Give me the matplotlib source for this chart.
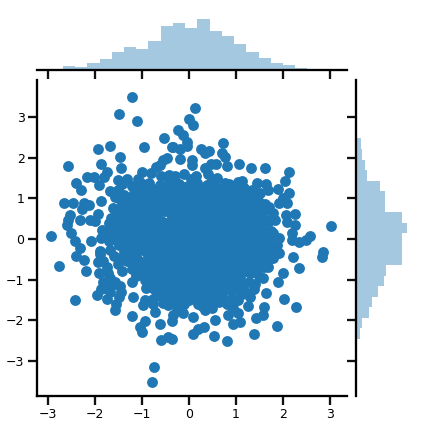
import numpy as np
from matplotlib import pyplot as plt

xs_edge = [-1.21,-1.48,-1.10,-1.67,-1.93,-0.95,-2.57,-1.46,-1.86,-1.44,-2.16,-2.01,-1.74,-1.80,-1.91,-2.40,-2.29,-1.50,-0.99,-0.81,-1.09,
           -2.65,-2.46,-2.23,-2.12,-2.27,-1.86,-2.53,-2.57,-2.31,-2.10,-2.00,-1.93,-2.60,-2.50,-2.93,-2.42,-2.31,-2.08,-1.84,-1.86,
           -0.53,-0.35,-0.24,-0.42,-0.62,-0.46,-0.55,-0.69,-0.84,-1.68,-1.50,
           0.13,0.01,0.09,-0.12,-0.05,-0.05,-0.33,-0.19,0.73,0.26,0.43,0.34,0.71,0.77,-0.18,0.06,0.06,0.82,1.07,1.31,1.61,0.58,0.46,0.34,
           2.13,2.05,1.89,2.13,2.01,2.09,1.92,2.26,2.07,2.09,2.26,3.03,2.20,2.20,2.58,2.48,2.35,2.84,
           1.44,1.64,1.69,1.51,1.30,1.12,1.04,0.86,1.05,0.04,0.50,1.47,1.64,1.79,1.82,1.58,1.55,1.37,1.51,1.79,1.92,1.72,1.87,1.58,
           -2.76,-2.40,-2.23,-2.18,-2.42,-1.91,-1.93,-1.95,-1.86,-1.74,-1.57,-1.55,-1.21,-0.93,-1.04,-1.00,-0.61,-0.59,-0.44,-0.35,-0.74,-0.78,
           -0.72,-0.35,-1.18,-0.93,-0.76,-1.48,-1.68,-1.89,-1.68,-1.75,-1.68,-1.82,-1.57,-1.22,-1.47,-0.55,-0.26,-0.33,
           0.09,0.54,0.82,1.39,1.88,2.28,2.03,1.60,1.58,1.43,1.26,0.94,1.09,1.05,0.31,0.20,0.56,0.09,-0.12,0.84,1.64,1.39,1.90,1.99,1.58,
           2.35,2.22,2.82,1.92,1.79,1.69,1.30,0.94,0.66,0.34,-0.26,-0.05,0.38,
           -1.90,-1.82,-1.72,-1.80,-1.65,-1.45,-1.70,-1.75,-1.70,
           1.80,1.70,1.60,1.50,1.40,1.20,1.05,0.80,0.50,0.20,-0.10,-0.40,
           1.50,1.35,1.70,0.40,0.60,-0.30,-0.10,0.15,-0.60]
ys_edge = [3.51,3.07,2.92,2.30,2.21,2.26,1.81,2.01,1.84,1.74,1.54,1.54,1.64,1.54,1.32,1.38,1.22,1.45,1.64,1.62,1.47,
           0.90,0.90,0.90,0.85,0.73,0.93,0.58,0.47,0.48,0.48,0.44,0.61,0.34,0.14,0.07,-0.05,-0.21,-0.06,0.22,0.02,
           2.50,2.28,2.68,1.59,1.82,1.99,1.95,1.78,1.37,1.19,1.21,
           3.22,2.95,2.80,2.56,2.40,2.29,2.27,2.23,2.36,2.21,2.17,2.11,2.13,2.01,1.97,1.95,1.82,1.79,1.86,1.74,1.74,1.86,1.84,1.74,
           1.64,1.42,1.24,1.13,1.00,0.88,0.88,0.61,0.58,0.41,0.34,0.31,0.14,-0.02,0.07,-0.02,-0.07,-0.31,
           1.37,1.36,1.22,1.13,1.08,1.43,1.40,1.35,1.21,1.49,1.49,0.80,0.71,0.65,0.47,0.55,0.34,0.06,0.06,0.14,0.02,0.06,-0.15,-0.19,
           -0.67,-0.42,-0.52,-0.80,-1.51,-0.85,-0.57,-1.38,-1.24,-1.49,-1.76,-1.61,-1.91,-2.03,-2.18,-2.30,-2.10,-2.50,-2.42,-2.47,-3.16,-3.53,
           -1.81,-2.03,-1.44,-1.51,-1.49,-1.44,-1.30,-0.37,-0.27,-0.68,-0.97,-1.05,-1.05,-1.05,-1.17,-1.58,-1.75,-1.87,
           -2.35,-2.40,-2.52,-2.35,-2.15,-1.68,-1.49,-1.68,-1.88,-1.95,-1.66,-2.10,-2.05,-1.83,-2.18,-2.23,-2.00,-1.93,-1.83,-1.87,-1.34,-1.24,-1.07,-0.85,-0.97,
           -0.72,-0.45,-0.45,-0.35,-0.48,-0.68,-1.42,-1.58,-1.34,-1.75,-1.42,-1.38,-1.46,
           -0.30,-0.55,-0.85,-1.20,-1.15,-1.30,0.40,0.15,-0.05,
           -0.30,-0.50,-0.70,-0.90,-1.10,-1.30,-1.50,-1.60,-1.70,-1.60,-1.60,-1.55,
           0.90,1.20,0.80,1.60,1.50,1.55,1.60,1.55,1.55]
xs_mid = [-1.42,-1.21,-1.02,-0.83,-0.61,-0.42,-0.22,-0.03,0.18,0.39,0.58,0.77,0.96,1.17,1.36,
          -1.58,-1.37,-1.16,-0.97,-0.74,-0.53,-0.33,-0.11,0.08,0.29,0.51,0.69,0.88,1.11,1.29,1.48,
          -1.61,-1.43,-1.22,-1.01,-0.81,-0.63,-0.41,-0.19,0.01,0.23,0.42,0.63,0.84,1.03,1.22,1.41,1.62,
          -1.66,-1.47,-1.28,-1.07,-0.89,-0.68,-0.47,-0.26,-0.07,0.14,0.36,0.56,0.74,0.93,1.16,1.34,1.53,1.71,
          -1.69,-1.51,-1.32,-1.11,-0.92,-0.72,-0.51,-0.31,-0.09,0.11,0.31,0.52,0.71,0.93,1.12,1.31,1.52,1.74,
          -1.63,-1.41,-1.24,-1.03,-0.84,-0.64,-0.44,-0.23,-0.04,0.17,0.38,0.59,0.79,0.98,1.19,1.38,1.59,
          -1.48,-1.29,-1.08,-0.88,-0.69,-0.49,-0.28,-0.08,0.12,0.33,0.53,0.72,0.93,1.13,1.33,1.54,1.72,
          -1.59,-1.38,-1.19,-0.98,-0.78,-0.59,-0.38,-0.18,0.04,0.23,0.44,0.63,0.83,1.04,1.24,1.43,1.63,
          -1.51,-1.31,-1.12,-0.91,-0.71,-0.52,-0.31,-0.11,0.09,0.29,0.49,0.71,0.91,1.09,1.29,1.49,
          -1.42,-1.03,-0.84,-0.63,-0.43,-0.22,-0.02,0.18,0.39,0.58,0.78,0.99,1.18,1.39,
          -0.94,-0.72,-0.53,-0.32,-0.13,0.08,0.27,0.48,0.69,0.89,1.08,1.27,
          -0.57,-0.38,-0.18,0.03,0.22,0.44,0.63,0.82,1.02,
          -0.67,-0.46,-0.16,0.12,0.36,0.71,0.93]
ys_mid = [1.36,1.31,1.38,1.29,1.33,1.41,1.36,1.30,1.39,1.33,1.28,1.37,1.31,1.26,1.02,
          1.03,1.09,1.14,1.08,1.12,1.07,1.15,1.11,1.05,1.13,1.09,1.06,1.14,1.02,0.96,0.91,
          0.76,0.88,0.83,0.91,0.86,0.80,0.92,0.87,0.83,0.90,0.84,0.88,0.81,0.89,0.85,0.74,0.86,
          0.51,0.62,0.57,0.66,0.60,0.54,0.68,0.63,0.58,0.65,0.59,0.66,0.61,0.56,0.64,0.60,0.52,0.44,
          0.28,0.36,0.31,0.42,0.35,0.29,0.38,0.43,0.33,0.40,0.36,0.30,0.41,0.34,0.39,0.32,0.27,0.20,
          0.05,0.12,0.07,0.16,0.09,0.14,0.05,0.18,0.11,0.06,0.15,0.10,0.17,0.08,0.13,0.09,0.04,
          -0.14,-0.09,-0.16,-0.06,-0.12,-0.18,-0.07,-0.13,-0.05,-0.17,-0.10,-0.04,-0.15,-0.08,-0.13,-0.19,-0.26,
          -0.41,-0.31,-0.37,-0.28,-0.34,-0.40,-0.29,-0.36,-0.27,-0.39,-0.32,-0.26,-0.38,-0.30,-0.35,-0.41,-0.47,
          -0.62,-0.55,-0.50,-0.61,-0.54,-0.49,-0.60,-0.53,-0.47,-0.58,-0.52,-0.62,-0.50,-0.57,-0.63,-0.70,
          -0.79,-0.72,-0.81,-0.75,-0.69,-0.83,-0.76,-0.71,-0.80,-0.73,-0.84,-0.77,-0.72,-0.82,
          -1.02,-0.95,-0.91,-1.03,-0.97,-0.92,-1.04,-0.96,-0.90,-1.01,-0.94,-1.05,
          -1.21,-1.14,-1.25,-1.16,-1.11,-1.23,-1.17,-1.12,-1.24,
          -1.38,-1.33,-1.52,-1.45,-1.57,-1.41,-1.69]
xs_fill = [-1.31,-1.12,-0.91,-0.72,-0.51,-0.32,-0.12,0.08,0.28,0.48,0.67,0.87,1.07,1.26,
           -1.47,-1.26,-1.07,-0.86,-0.64,-0.43,-0.22,-0.02,0.19,0.40,0.60,0.79,0.99,1.20,1.39,1.58,
           -1.52,-1.32,-1.12,-0.91,-0.72,-0.52,-0.30,-0.09,0.12,0.32,0.52,0.73,0.94,1.13,1.32,1.51,
           -1.57,-1.38,-1.17,-0.98,-0.78,-0.57,-0.36,-0.16,0.04,0.25,0.46,0.65,0.84,1.04,1.25,1.43,1.62,
           -1.60,-1.42,-1.21,-1.02,-0.82,-0.62,-0.41,-0.20,0.01,0.21,0.41,0.62,0.82,1.02,1.22,1.42,1.63,
           -1.54,-1.33,-1.14,-0.94,-0.74,-0.54,-0.34,-0.13,0.07,0.28,0.48,0.69,0.89,1.09,1.29,1.49,1.68,
           -1.39,-1.19,-0.98,-0.79,-0.59,-0.38,-0.18,0.02,0.22,0.43,0.63,0.83,1.03,1.23,1.44,1.63,
           -1.48,-1.28,-1.09,-0.88,-0.68,-0.48,-0.28,-0.08,0.13,0.34,0.54,0.73,0.93,1.14,1.34,1.53,
           -1.21,-1.02,-0.81,-0.62,-0.41,-0.21,-0.01,0.19,0.39,0.60,0.81,1.00,1.19,1.40,
           -1.13,-0.93,-0.73,-0.52,-0.33,-0.12,0.08,0.28,0.48,0.68,0.88,1.29,
           -0.83,-0.63,-0.43,-0.23,-0.03,0.17,0.38,0.58,0.78,0.97,1.15,
           -0.48,-0.27,-0.07,0.13,0.33,0.53,0.72,0.92,
           -0.36,0.00,0.24,0.55]
ys_fill = [1.47,1.22,1.24,1.20,1.25,1.22,1.27,1.21,1.24,1.20,1.23,1.19,1.24,1.15,
           0.98,1.00,0.97,1.01,0.96,0.99,1.02,0.95,0.98,1.01,0.96,1.00,0.97,0.99,0.85,0.78,
           0.72,0.75,0.70,0.74,0.73,0.69,0.76,0.71,0.74,0.68,0.75,0.72,0.70,0.76,0.69,0.66,
           0.47,0.49,0.44,0.51,0.46,0.42,0.50,0.45,0.48,0.43,0.52,0.47,0.44,0.50,0.46,0.48,0.41,
           0.19,0.24,0.21,0.27,0.23,0.20,0.26,0.22,0.24,0.19,0.27,0.21,0.25,0.22,0.26,0.20,0.17,
           -0.02,-0.04,0.00,-0.03,0.01,-0.05,-0.01,0.02,-0.04,0.00,-0.03,0.02,-0.05,-0.01,-0.02,-0.06,-0.10,
           -0.23,-0.26,-0.21,-0.27,-0.22,-0.25,-0.20,-0.26,-0.16,-0.24,-0.21,-0.27,-0.23,-0.20,-0.28,-0.34,
           -0.49,-0.46,-0.52,-0.45,-0.48,-0.53,-0.46,-0.50,-0.44,-0.51,-0.47,-0.43,-0.52,-0.45,-0.49,-0.55,
           -0.73,-0.68,-0.74,-0.67,-0.71,-0.66,-0.72,-0.65,-0.70,-0.66,-0.73,-0.62,-0.68,-0.74,
           -0.91,-0.85,-0.93,-0.87,-0.84,-0.92,-0.86,-0.83,-0.91,-0.85,-0.95,-0.84,
           -1.15,-1.09,-1.05,-1.12,-1.07,-1.03,-1.10,-1.06,-1.13,-1.08,-1.14,
           -1.30,-1.27,-1.33,-1.29,-1.25,-1.32,-1.28,-1.26,
           -1.47,-1.50,-1.46,-1.52]
# third pass, the solid core
xs_core = [-1.10,-0.93,-0.74,-0.56,-0.37,-0.17,0.02,0.23,0.44,0.62,0.83,1.02,1.21,
           -1.27,-1.05,-0.87,-0.66,-0.47,-0.27,-0.06,0.13,0.33,0.54,0.74,0.95,1.14,1.34,
           -1.18,-1.00,-0.80,-0.60,-0.39,-0.20,0.00,0.21,0.41,0.61,0.80,1.01,1.21,1.44,
           -1.36,-1.15,-0.96,-0.75,-0.56,-0.35,-0.15,0.06,0.25,0.46,0.66,0.86,1.07,1.27,1.47,
           -1.27,-1.06,-0.86,-0.67,-0.46,-0.25,-0.05,0.16,0.35,0.56,0.77,0.96,1.17,1.37,1.58,
           -1.45,-1.25,-1.04,-0.85,-0.65,-0.44,-0.24,-0.03,0.17,0.37,0.57,0.78,0.97,1.18,1.38,1.57,
           -1.34,-1.13,-0.93,-0.74,-0.53,-0.33,-0.13,0.07,0.28,0.48,0.68,0.88,1.08,1.28,1.47,
           -1.22,-1.03,-0.83,-0.63,-0.43,-0.23,-0.03,0.18,0.37,0.58,0.78,0.98,1.18,1.38,
           -1.15,-0.96,-0.76,-0.56,-0.36,-0.16,0.04,0.24,0.44,0.65,1.05,1.24,
           -0.89,-0.69,-0.49,-0.28,-0.08,0.13,0.33,0.53,0.73,0.94,
           -0.92,-0.74,-0.54,-0.34,-0.15,0.05,0.26,0.47,0.66,0.86,1.05,
           -0.57,-0.37,-0.17,0.04,0.24,0.44,0.64,
           -0.23,-0.44,0.28,0.47,0.63,-0.76,-0.98,0.92,1.12]
ys_core = [1.12,1.19,1.06,1.17,1.20,1.08,1.19,1.04,1.16,1.12,1.24,1.05,1.10,
           0.92,0.95,0.92,0.98,0.92,0.96,0.90,1.00,0.93,0.98,0.92,0.95,0.90,0.78,
           0.65,0.68,0.62,0.70,0.64,0.73,0.66,0.62,0.70,0.67,0.62,0.71,0.63,0.60,
           0.40,0.44,0.38,0.47,0.41,0.54,0.41,0.46,0.39,0.45,0.41,0.48,0.40,0.44,0.37,
           0.14,0.20,0.28,0.13,0.22,0.16,0.20,0.13,0.22,0.16,0.21,0.14,0.20,0.15,0.13,
           -0.08,-0.05,-0.12,-0.01,-0.07,-0.13,-0.05,-0.11,-0.03,-0.09,-0.14,-0.05,-0.10,-0.02,-0.07,-0.12,
           -0.31,-0.35,-0.29,-0.37,-0.32,-0.36,-0.30,-0.38,-0.32,-0.28,-0.36,-0.30,-0.37,-0.33,-0.38,
           -0.57,-0.60,-0.54,-0.62,-0.56,-0.63,-0.56,-0.61,-0.55,-0.60,-0.54,-0.60,-0.58,-0.61,
           -0.80,-0.83,-0.78,-0.84,-0.79,-0.85,-0.77,-0.84,-0.78,-0.84,-0.82,-0.78,
           -1.03,-0.98,-1.06,-1.00,-0.98,-1.06,-0.99,-1.04,-0.98,-1.06,
           -1.20,-1.23,-1.17,-1.22,-1.18,-1.24,-1.18,-1.22,-1.18,-1.22,-1.18,
           -1.40,-1.43,-1.38,-1.42,-1.37,-1.43,-1.38,
           -1.67,-1.62,-1.65,-1.60,-1.55,-1.60,-1.62,-1.45,-1.35]

top_edge0 = -2.68
top_counts = [4.8,3.7,8.1,12.6,20.4,26,23.7,32.6,49.3,52.6,47,57,43.7,38,29,20.4,13.7,8.1,5.9,2.6]
right_edge0 = -2.46
right_counts = [4.4,6.7,14.4,17.8,24.4,31,33.3,51,51,51,57,51,32,32,26.7,12,10,6.7,5.5,1.5,1.5]
bin_w = 0.26

x_ticks = [-3,-2,-1,0,1,2,3]
y_ticks = [-3,-2,-1,0,1,2,3]

W, H = 425, 429
fig = plt.figure(figsize=(W/72, H/72), dpi=72)
ax = fig.add_axes([37/W, (H-396)/H, 309.5/W, 316/H])
ax_top = fig.add_axes([37/W, (H-70)/H, 309.5/W, 60/H], sharex=ax)
ax_right = fig.add_axes([356/W, (H-396)/H, 60/W, 316/H], sharey=ax)

ax.scatter(xs_edge + xs_mid + xs_fill + xs_core, ys_edge + ys_mid + ys_fill + ys_core,
           s=118, color='#1f77b4', linewidths=0)
ax.set_xlim(-3.23, 3.35)
ax.set_ylim(-3.87, 3.92)
ax.set_xticks(x_ticks)
ax.set_yticks(y_ticks)

top_centers = top_edge0 + bin_w*(np.arange(len(top_counts))+0.5)
ax_top.bar(top_centers, top_counts, width=bin_w, color='#1f77b4', alpha=0.4, linewidth=0)
ax_top.set_ylim(0, 66.7)
right_centers = right_edge0 + bin_w*(np.arange(len(right_counts))+0.5)
ax_right.barh(right_centers, right_counts, height=bin_w, color='#1f77b4', alpha=0.4, linewidth=0)
ax_right.set_xlim(0, 66.7)

for a in (ax, ax_top, ax_right):
    a.spines[['top','right']].set_visible(False)
    a.spines[['left','bottom']].set_linewidth(2.3)
    a.tick_params(width=2.3, length=9, labelsize=12.5, color='#111111')
    a.patch.set_alpha(0)
ax_top.spines['left'].set_visible(False)
ax_top.tick_params(left=False, labelleft=False, labelbottom=False)
ax_right.spines['bottom'].set_visible(False)
ax_right.tick_params(bottom=False, labelbottom=False, labelleft=False)

fig.savefig('out.png', dpi=72)
